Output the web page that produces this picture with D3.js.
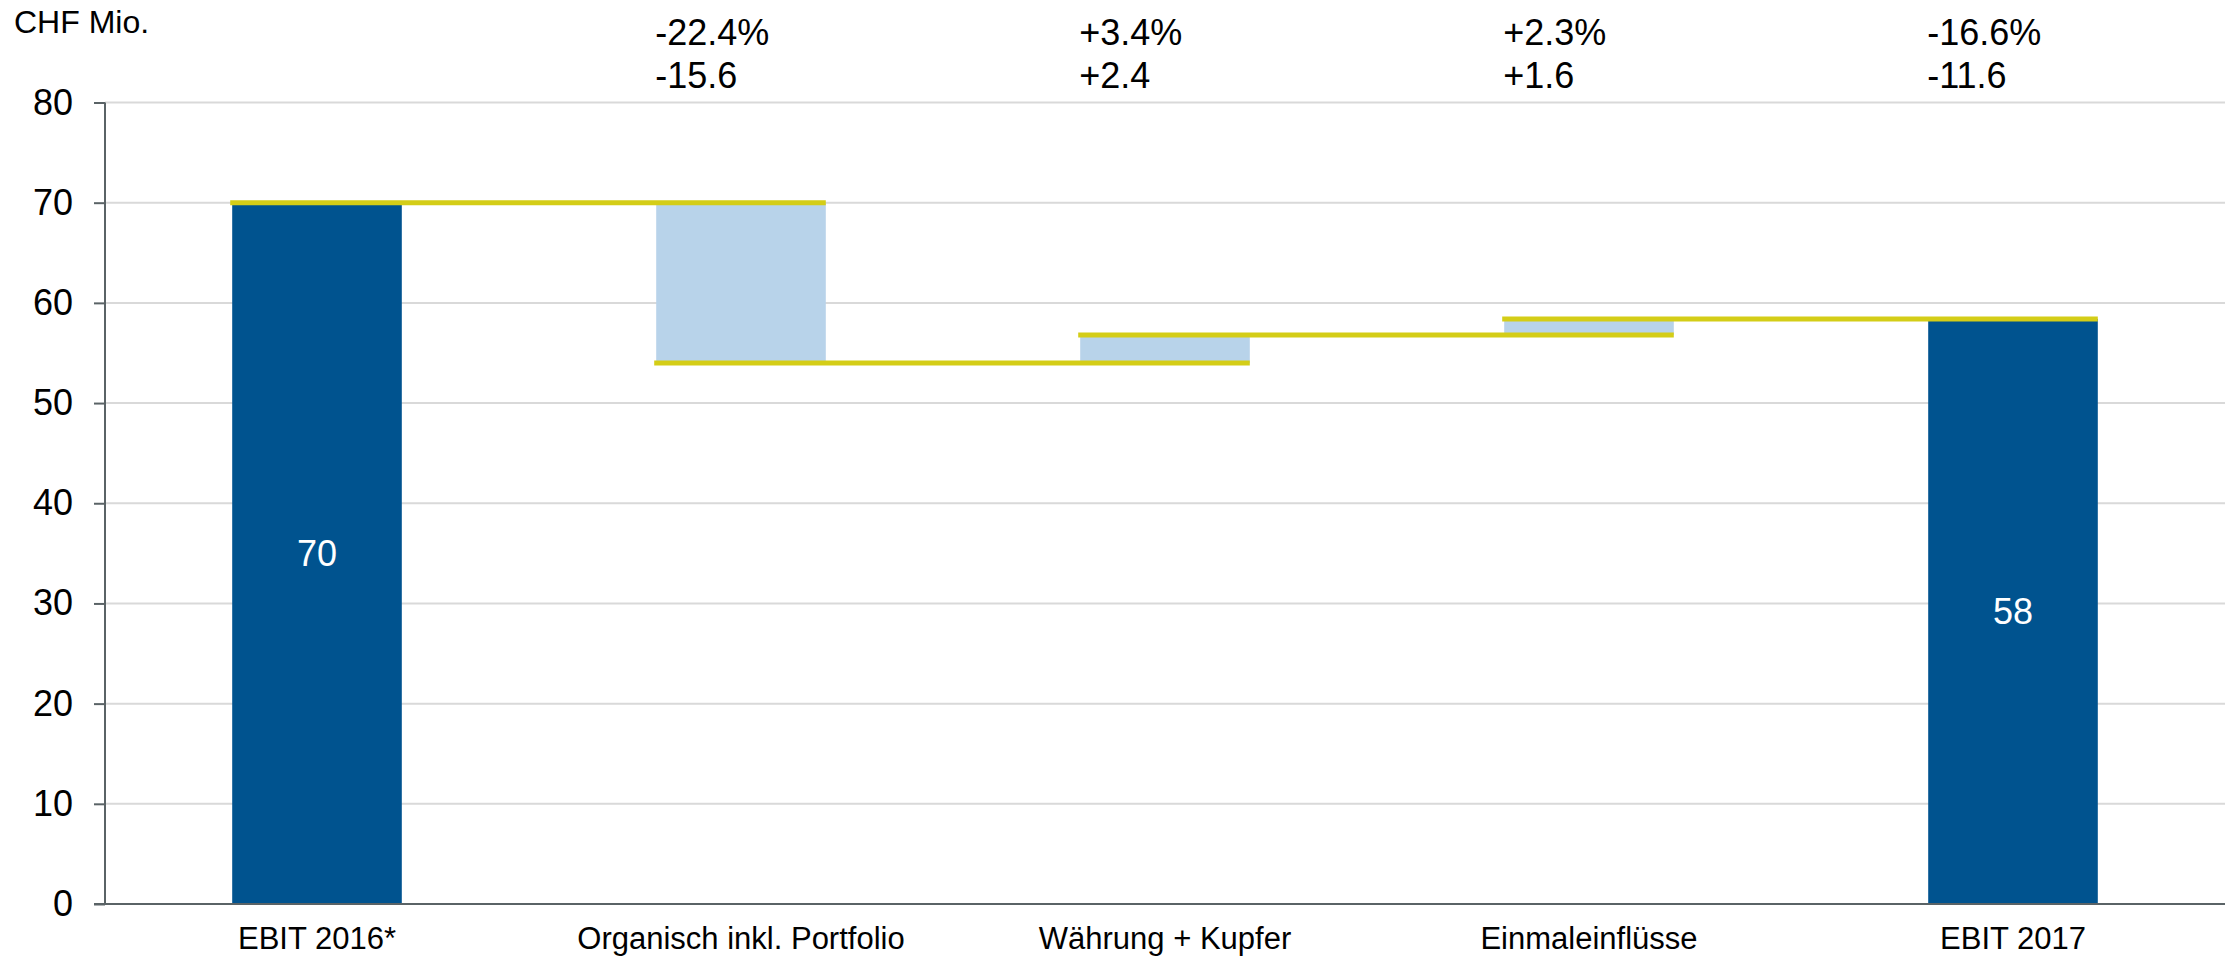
<!DOCTYPE html>
<html lang="de">
    <head>
        <meta charset="utf-8">
        <title>EBIT Brücke</title>
        <script src="https://d3js.org/d3.v7.min.js"></script>
        <style type="text/css">
            html, body { margin: 0; padding: 0; background: #fff; overflow: hidden; }
            svg { display: block; }
            text { font-family: "Liberation Sans", Arial, sans-serif; fill: #000; }
        </style>
    </head>
    <body>
        <script>
            // data (bar heights as drawn in the picture, labels as printed)
            var categories = ["EBIT 2016*", "Organisch inkl. Portfolio", "Währung + Kupfer", "Einmaleinflüsse", "EBIT 2017"];
            var kinds = ["total", "delta", "delta", "delta", "total"];
            var values = [70, -16.0, 2.8, 1.6, 58.4];
            var barLabels = ["70", "", "", "", "58"];
            var pctLabels = ["", "-22.4%", "+3.4%", "+2.3%", "-16.6%"];
            var absLabels = ["", "-15.6", "+2.4", "+1.6", "-11.6"];
            var yTicks = [0, 10, 20, 30, 40, 50, 60, 70, 80];

            // configuration
            var outerWidth = 2232;
            var outerHeight = 959;
            var margin = { left: 105, top: 102.5, right: 7, bottom: 55 };
            var innerWidth = outerWidth - margin.left - margin.right;
            var innerHeight = outerHeight - margin.top - margin.bottom;

            var darkBlue = "#00538f";
            var lightBlue = "#b8d3ea";
            var yellow = "#d4cd17";
            var axisGrey = "#5a6366";

            var svg = d3.select("body").append("svg")
                .attr("width", outerWidth)
                .attr("height", outerHeight);

            var g = svg.append("g")
                .attr("transform", "translate(" + margin.left + "," + margin.top + ")");

            var xScale = d3.scaleBand().domain(categories).range([0, innerWidth]).paddingInner(0.6).paddingOuter(0.3);
            var yScale = d3.scaleLinear().domain([0, 80]).range([innerHeight, 0]);

            // build waterfall rows
            var running = 0;
            var rows = categories.map(function (c, i) {
                var lo, hi;
                if (kinds[i] === "total") {
                    lo = 0; hi = values[i]; running = values[i];
                } else {
                    var next = running + values[i];
                    lo = Math.min(running, next); hi = Math.max(running, next);
                    running = next;
                }
                return { cat: c, kind: kinds[i], lo: lo, hi: hi, level: running, i: i };
            });

            // gridlines
            g.selectAll(".grid").data(yTicks.filter(function (t) { return t > 0; })).enter()
                .append("line")
                .attr("x1", 0).attr("x2", innerWidth)
                .attr("y1", function (d) { return yScale(d); })
                .attr("y2", function (d) { return yScale(d); })
                .attr("stroke", "#d9d9d9").attr("stroke-width", 2);

            // bars
            g.selectAll(".bar").data(rows).enter()
                .append("rect")
                .attr("x", function (d) { return xScale(d.cat); })
                .attr("width", xScale.bandwidth())
                .attr("y", function (d) { return yScale(d.hi); })
                .attr("height", function (d) { return yScale(d.lo) - yScale(d.hi); })
                .attr("fill", function (d) { return d.kind === "total" ? darkBlue : lightBlue; });

            // connectors
            var links = rows.slice(0, -1).map(function (d, i) {
                return { x1: xScale(d.cat) - 2, x2: xScale(rows[i + 1].cat) + xScale.bandwidth(), level: d.level };
            });
            g.selectAll(".link").data(links).enter()
                .append("line")
                .attr("x1", function (d) { return d.x1; })
                .attr("x2", function (d) { return d.x2; })
                .attr("y1", function (d) { return yScale(d.level); })
                .attr("y2", function (d) { return yScale(d.level); })
                .attr("stroke", yellow).attr("stroke-width", 5);

            // axes
            var yAxis = g.append("g").call(d3.axisLeft(yScale).tickValues(yTicks).tickSize(11).tickPadding(21));
            yAxis.select(".domain").attr("stroke", axisGrey).attr("stroke-width", 2).attr("d", "M0,0V" + innerHeight);
            yAxis.selectAll(".tick line").attr("stroke", axisGrey).attr("stroke-width", 2);
            yAxis.selectAll(".tick text").style("font-size", "36px").style("font-family", "Liberation Sans, Arial, sans-serif").attr("fill", "#000");

            g.append("line")
                .attr("x1", -11).attr("x2", innerWidth)
                .attr("y1", innerHeight).attr("y2", innerHeight)
                .attr("stroke", axisGrey).attr("stroke-width", 2);

            // category labels
            g.selectAll(".cat").data(categories).enter()
                .append("text")
                .attr("x", function (d) { return xScale(d) + xScale.bandwidth() / 2; })
                .attr("y", innerHeight + 34)
                .attr("dy", "0.35em")
                .attr("text-anchor", "middle")
                .style("font-size", "31px")
                .text(function (d) { return d; });

            // values inside totals
            g.selectAll(".val").data(rows.filter(function (d, i) { return barLabels[i] !== ""; })).enter()
                .append("text")
                .attr("x", function (d) { return xScale(d.cat) + xScale.bandwidth() / 2; })
                .attr("y", function (d) { return yScale(d.hi / 2); })
                .attr("dy", "0.35em")
                .attr("text-anchor", "middle")
                .style("font-size", "36px")
                .style("fill", "#fff")
                .text(function (d) { return barLabels[d.i]; });

            // annotations above
            var ann = g.selectAll(".ann").data(rows.filter(function (d, i) { return pctLabels[i] !== ""; })).enter();
            ann.append("text")
                .attr("x", function (d) { return xScale(d.cat) - 1; })
                .attr("y", 32 - margin.top)
                .attr("dy", "0.35em")
                .style("font-size", "36px")
                .text(function (d) { return pctLabels[d.i]; });
            ann.append("text")
                .attr("x", function (d) { return xScale(d.cat) - 1; })
                .attr("y", 75 - margin.top)
                .attr("dy", "0.35em")
                .style("font-size", "36px")
                .text(function (d) { return absLabels[d.i]; });

            svg.append("text")
                .attr("x", 14).attr("y", 22)
                .attr("dy", "0.35em")
                .style("font-size", "32px")
                .text("CHF Mio.");
        </script>
    </body>
</html>
